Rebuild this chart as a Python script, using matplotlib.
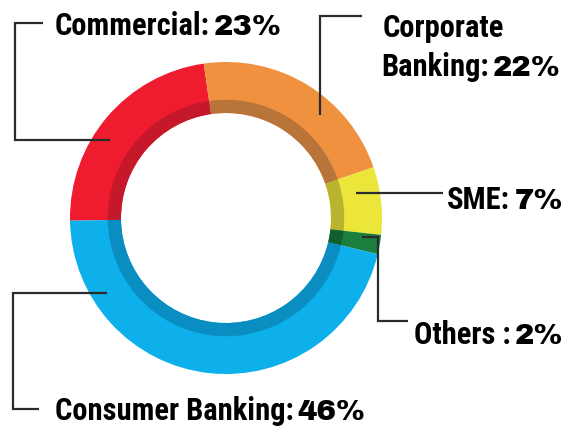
import matplotlib
matplotlib.use("Agg")
import matplotlib.pyplot as plt

# Revenue share by business segment (clockwise from the left)
segments = ["Commercial", "Corporate Banking", "SME", "Others", "Consumer Banking"]
shares = [23, 22, 7, 2, 46]
colors = ["#EE1C2E", "#F0913F", "#ECE63A", "#1B7E3E", "#0DB0EA"]
inner_shade = ["#C5182A", "#B9743A", "#B9B32E", "#125F2E", "#0A8EC2"]

W, H = 566, 426
fig = plt.figure(figsize=(W / 100, H / 100), dpi=100)
fig.patch.set_facecolor("white")

# Donut geometry in pixels
cx, cy, R = 226, 218, 156
ax = fig.add_axes([(cx - R) / W, (H - cy - R) / H, 2 * R / W, 2 * R / H])
ax.axis("off")

hole = 105 / R
ax.pie(shares, colors=colors, startangle=181, counterclock=False, radius=1.0,
       wedgeprops=dict(width=1.0 - hole, edgecolor="none", linewidth=0))
ax.pie(shares, colors=inner_shade, startangle=181, counterclock=False, radius=hole + 0.085,
       wedgeprops=dict(width=0.085, edgecolor="none", linewidth=0))
ax.set_xlim(-1, 1)
ax.set_ylim(-1, 1)
ax.set_aspect("equal")

# Overlay in pixel coordinates for leaders and labels
ov = fig.add_axes([0, 0, 1, 1])
ov.set_xlim(0, W)
ov.set_ylim(H, 0)
ov.axis("off")
ov.patch.set_alpha(0)

line_kw = dict(color="#2B2B2B", lw=1.6, solid_capstyle="butt", solid_joinstyle="miter")
leaders = [
    ([43, 15, 15, 110], [23, 23, 140, 140]),
    ([362, 320, 320], [16, 16, 115]),
    ([356, 443], [193, 193]),
    ([362, 378, 378, 408], [237, 237, 321, 321]),
    ([107, 13, 13, 39], [293, 293, 409, 409]),
]
for xs, ys in leaders:
    ov.plot(xs, ys, **line_kw)

name_font = dict(family=["Roboto Condensed", "Barlow Condensed", "Oswald", "DejaVu Sans"],
                 weight=900, size=22)
pct_font = dict(family=["Archivo Black", "Roboto", "DejaVu Sans"], weight="black", size=21)

fig.canvas.draw()
renderer = fig.canvas.get_renderer()


def width_px(t):
    bb = t.get_window_extent(renderer=renderer)
    return bb.x1 - bb.x0


def label(name, pct, x, y, align="left", gap=4):
    if align == "left":
        t = ov.text(x, y, name, ha="left", va="baseline", color="black", **name_font)
        x_end = x + width_px(t)
        ov.text(x_end + gap, y, pct, ha="left", va="baseline", color="black", **pct_font)
    else:
        p = ov.text(x, y, pct, ha="right", va="baseline", color="black", **pct_font)
        x_start = x - width_px(p)
        ov.text(x_start - gap, y, name, ha="right", va="baseline", color="black", **name_font)


label("Commercial:", f"{shares[0]}%", 55, 35)
ov.text(383, 37, "Corporate", ha="left", va="baseline", color="black", **name_font)
label("Banking:", f"{shares[1]}%", 561, 76, align="right")
label("SME:", f"{shares[2]}%", 563, 209, align="right")
label("Others :", f"{shares[3]}%", 563, 344, align="right")
label("Consumer Banking:", f"{shares[4]}%", 55, 420)

fig.savefig("out.png", dpi=100, facecolor="white")
